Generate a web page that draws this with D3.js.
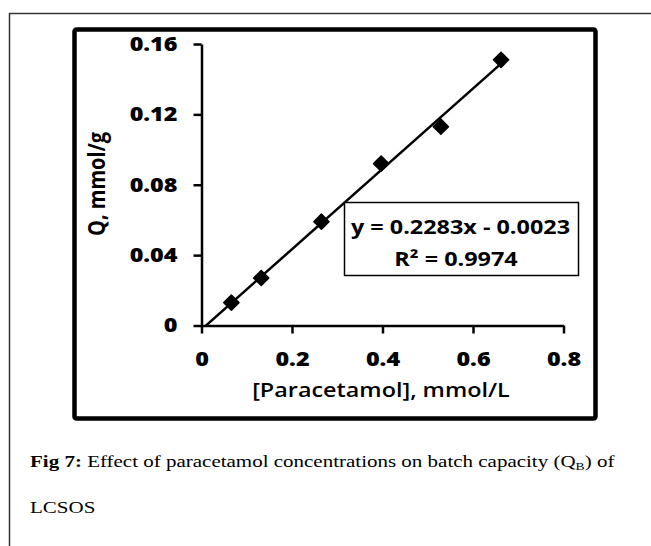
<!DOCTYPE html>
<html lang="en">
<head>
<meta charset="UTF-8">
<script src="https://d3js.org/d3.v7.min.js"></script>
<title>Fig 7 - paracetamol batch capacity</title>
<style>
  body { margin: 0; background: #fff; }
</style>
</head>
<body>
<div id="Area"></div>
<script>
// data
const concentration = [0.066, 0.132, 0.265, 0.397, 0.529, 0.662];   // mmol/L
const capacity = [0.013, 0.027, 0.059, 0.092, 0.113, 0.151];          // mmol/g
const xTicks = [0, 0.2, 0.4, 0.6, 0.8];
const yTicks = [0, 0.04, 0.08, 0.12, 0.16];
const slope = 0.2283, intercept = -0.0023;
const eqnLines = ["y = 0.2283x - 0.0023", "R² = 0.9974"];

const W = 651, H = 546;
// the source picture is a little wider than tall, so text is stretched sideways
const kx = 1.17;

const svg = d3.select("#Area").append("svg")
    .attr("width", W).attr("height", H)
    .style("display", "block");
svg.append("rect").attr("width", W).attr("height", H).attr("fill", "#fff");

// outer table frame (top + left)
svg.append("path")
    .attr("d", "M9.5,546 V13.5 H651")
    .attr("fill", "none").attr("stroke", "#333").attr("stroke-width", 1.5);

// chart box
svg.append("rect")
    .attr("x", 74.5).attr("y", 29.5).attr("width", 521).attr("height", 389)
    .attr("rx", 2)
    .attr("fill", "#fff").attr("stroke", "#000").attr("stroke-width", 4.5);

const x = d3.scaleLinear().domain([0, 0.8]).range([201.5, 563.5]);
const y = d3.scaleLinear().domain([0, 0.16]).range([325.5, 44]);

const fontSans = "'Open Sans', Calibri, sans-serif";

// move a text's x/y into a transform so it can be widened around its anchor
function widen(sel, k) {
  sel.each(function() {
    const t = d3.select(this);
    const tx = +t.attr("x") || 0, ty = +t.attr("y") || 0;
    t.attr("x", 0).attr("y", 0)
     .attr("transform", "translate(" + tx + "," + ty + ") scale(" + k + ",1)");
  });
}

// x axis
const gx = svg.append("g")
    .attr("transform", "translate(0," + y(0) + ")")
    .call(d3.axisBottom(x).tickValues(xTicks).tickSizeInner(8).tickSizeOuter(0)
        .tickPadding(18).tickFormat(d => d === 0 ? "0" : d3.format(".1f")(d)));

// y axis
const gy = svg.append("g")
    .attr("transform", "translate(" + x(0) + ",0)")
    .call(d3.axisLeft(y).tickValues(yTicks).tickSizeInner(8).tickSizeOuter(0)
        .tickPadding(16).tickFormat(d => d === 0 ? "0" : d3.format(".2f")(d)));

[gx, gy].forEach(g => {
  g.select(".domain").attr("stroke", "#000").attr("stroke-width", 2.5);
  g.selectAll(".tick line").attr("stroke", "#000").attr("stroke-width", 2.5);
  g.selectAll(".tick text")
      .attr("fill", "#000")
      .style("font-family", fontSans)
      .style("font-weight", "800")
      .style("font-size", "20px")
      .call(widen, kx);
});

// axis titles
svg.append("text")
    .attr("x", 381).attr("y", 397)
    .attr("text-anchor", "middle")
    .style("font-family", fontSans).style("font-weight", "600").style("font-size", "20px")
    .text("[Paracetamol], mmol/L")
    .call(widen, kx);

svg.append("text")
    .attr("transform", "translate(105,184) rotate(-90) scale(1," + kx + ")")
    .attr("text-anchor", "middle")
    .style("font-family", fontSans).style("font-weight", "700").style("font-size", "20px")
    .text("Q, mmol/g");

// trendline, clipped to the plot area
svg.append("clipPath").attr("id", "plotClip")
  .append("rect")
    .attr("x", x(0)).attr("y", y(0.16))
    .attr("width", x(0.8) - x(0)).attr("height", y(0) - y(0.16));

const xMax = d3.max(concentration);
const trend = [0, xMax].map(c => [c, slope * c + intercept]);
svg.append("path")
    .datum(trend)
    .attr("clip-path", "url(#plotClip)")
    .attr("d", d3.line().x(d => x(d[0])).y(d => y(d[1])))
    .attr("fill", "none").attr("stroke", "#000").attr("stroke-width", 2.5);

// points
const diamond = d3.symbol().type(d3.symbolSquare).size(115);
svg.append("g").selectAll("path")
  .data(concentration.map((c, i) => [c, capacity[i]]))
  .join("path")
    .attr("d", diamond)
    .attr("transform", d => "translate(" + x(d[0]) + "," + y(d[1]) + ") rotate(45)")
    .attr("fill", "#000")
    .attr("stroke", "#000").attr("stroke-width", 1.5).attr("stroke-linejoin", "round");

// equation box
svg.append("rect")
    .attr("x", 344.5).attr("y", 202.5).attr("width", 234).attr("height", 73)
    .attr("fill", "#fff").attr("stroke", "#000").attr("stroke-width", 1.5);
svg.selectAll(".eqn").data(eqnLines).join("text")
    .attr("class", "eqn")
    .attr("x", (d, i) => i === 0 ? 460.5 : 456).attr("y", (d, i) => 234 + i * 32)
    .attr("text-anchor", "middle")
    .style("font-family", fontSans).style("font-weight", "700").style("font-size", "20px")
    .text(d => d)
    .call(widen, kx);

// caption
const fontSerif = "'Liberation Serif', 'Times New Roman', serif";
const cap = svg.append("text")
    .attr("x", 30).attr("y", 467)
    .style("font-family", fontSerif).style("font-size", "17px");
cap.append("tspan").style("font-weight", "700").text("Fig 7:");
cap.append("tspan").text(" Effect of paracetamol concentrations on batch capacity (Q");
cap.append("tspan").attr("dy", 3).style("font-size", "11px").text("B");
cap.append("tspan").attr("dy", -3).text(") of");
cap.call(widen, 1.235);

svg.append("text")
    .attr("x", 30).attr("y", 513)
    .style("font-family", fontSerif).style("font-size", "17px")
    .text("LCSOS")
    .call(widen, 1.235);
</script>
</body>
</html>
